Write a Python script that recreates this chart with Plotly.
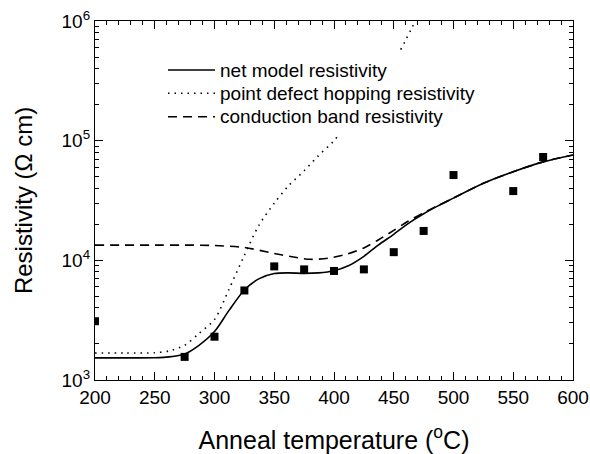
import plotly.graph_objects as go

# measured data
meas_T = [200, 275, 300, 325, 350, 375, 400, 425, 450, 475, 500, 550, 575]
meas_rho = [3100, 1560, 2300, 5600, 8900, 8400, 8150, 8400, 11700, 17600, 51600, 37900, 73000]

# net model resistivity
net_T = [200, 225, 250, 262, 275, 287, 300, 312, 325, 337, 350, 362, 375, 387, 400,
         412, 425, 437, 450, 462, 475, 487, 500, 525, 550, 575, 600]
net_rho = [1530, 1530, 1535, 1560, 1650, 1950, 2540, 3800, 5650, 7000, 7750, 7850, 7780,
           7850, 8180, 9000, 10800, 13400, 16500, 20300, 24500, 28500, 33100, 44000,
           55000, 66500, 76000]

# point defect hopping resistivity
pd_T = [200, 225, 250, 262, 275, 287, 300, 312, 325, 337, 350, 362, 375, 387, 400,
        425, 450, 470]
pd_rho = [1680, 1680, 1690, 1750, 1950, 2450, 3200, 5700, 11000, 19500, 30000, 42000,
          56000, 75000, 100000, 214000, 457000, 1100000]

# conduction band resistivity
cb_T = [200, 250, 275, 300, 325, 350, 365, 380, 395, 410, 425, 437, 450, 462, 475,
        487, 500, 525, 550, 575, 600]
cb_rho = [13400, 13400, 13400, 13300, 12800, 11400, 10700, 10200, 10400, 11200, 12700,
          14800, 17800, 21200, 25000, 28700, 33200, 44000, 55000, 66500, 76000]

y_tickvals = [1e3, 1e4, 1e5, 1e6]
y_ticktext = ["10<sup>3</sup>", "10<sup>4</sup>", "10<sup>5</sup>", "10<sup>6</sup>"]

legend_labels = ["net model resistivity", "point defect hopping resistivity",
                 "conduction band resistivity"]
legend_dashes = ["solid", "1.5px,5px", "9px,6px"]

fig = go.Figure()
fig.add_trace(go.Scatter(x=net_T, y=net_rho, mode="lines", name=legend_labels[0], showlegend=False,
                         line=dict(color="black", width=1.6, dash=legend_dashes[0],
                                   shape="spline", smoothing=0.8)))
fig.add_trace(go.Scatter(x=pd_T, y=pd_rho, mode="lines", name=legend_labels[1], showlegend=False,
                         line=dict(color="black", width=1.6, dash=legend_dashes[1],
                                   shape="spline", smoothing=0.8)))
fig.add_trace(go.Scatter(x=cb_T, y=cb_rho, mode="lines", name=legend_labels[2], showlegend=False,
                         line=dict(color="black", width=1.6, dash=legend_dashes[2],
                                   shape="spline", smoothing=0.8)))
fig.add_trace(go.Scatter(x=meas_T, y=meas_rho, mode="markers", showlegend=False,
                         marker=dict(symbol="square", size=8, color="black")))

# legend box (white background that masks the curves behind it), samples and labels
fig.add_shape(type="rect", xref="paper", yref="paper", x0=0.14, x1=0.82, y0=0.68, y1=0.915,
              fillcolor="white", line=dict(width=0), layer="above")
row_y = [0.8635, 0.7986, 0.7334]
for label, dash, ry in zip(legend_labels, legend_dashes, row_y):
    fig.add_shape(type="line", xref="paper", yref="paper", x0=0.1527, x1=0.251, y0=ry, y1=ry,
                  line=dict(color="black", width=1.6, dash=dash), layer="above")
    fig.add_annotation(xref="paper", yref="paper", x=0.2573, y=ry, text=label,
                       showarrow=False, xanchor="left", yanchor="middle",
                       font=dict(size=19, color="black"))

font_family = "Liberation Sans, Arial, Helvetica, sans-serif"
fig.update_layout(
    width=590, height=454,
    margin=dict(l=95, r=17, t=21, b=74),
    paper_bgcolor="white", plot_bgcolor="white",
    font=dict(family=font_family, color="black"),
    showlegend=False,
    xaxis=dict(range=[200, 600], dtick=50, tick0=200, ticks="inside", ticklen=8,
               tickwidth=1.2, tickcolor="black", ticklabeloverflow="allow", automargin="top",
               showline=True, linecolor="black", linewidth=1.3, mirror="ticks",
               showgrid=False, zeroline=False, tickfont=dict(size=19),
               minor=dict(dtick=10, ticks="inside", ticklen=4, tickcolor="black", showgrid=False),
               title=dict(text="Anneal temperature (<sup>o</sup>C)", font=dict(size=25), standoff=26)),
    yaxis=dict(type="log", range=[3, 6], tickmode="array", tickvals=y_tickvals, ticktext=y_ticktext,
               ticks="inside", ticklen=8, tickwidth=1.2, tickcolor="black", ticklabeloverflow="allow",
               automargin="right",
               showline=True, linecolor="black", linewidth=1.3, mirror="ticks",
               showgrid=False, zeroline=False, tickfont=dict(size=19),
               minor=dict(dtick="D1", ticks="inside", ticklen=4, tickcolor="black", showgrid=False),
               title=dict(text="Resistivity (Ω cm)", font=dict(size=24), standoff=22)),
)

fig.write_html("out.html", config={"displayModeBar": False},
               post_script="document.body.style.margin='0px';")
